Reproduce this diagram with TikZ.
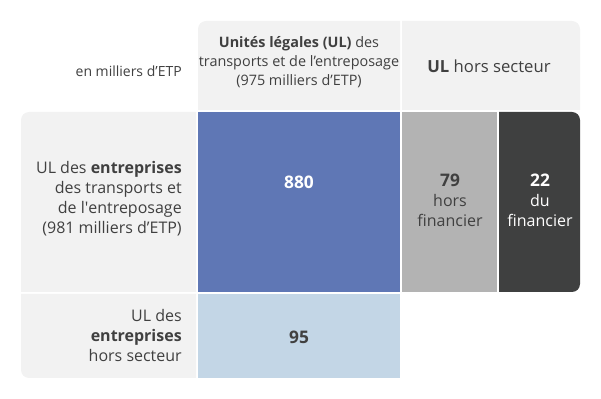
\documentclass[tikz,border=0pt]{standalone}
\usepackage{fontspec}
\setmainfont{Open Sans}
\usetikzlibrary{math}
\definecolor{cellgray}{HTML}{F2F2F2}
\definecolor{ulblue}{HTML}{5F77B5}
\definecolor{ullight}{HTML}{C3D6E6}
\definecolor{midgray}{HTML}{B3B3B3}
\definecolor{darkcell}{HTML}{3F4040}
\definecolor{txt}{HTML}{404040}

\begin{document}
\begin{tikzpicture}[x=0.75pt, y=-0.75pt,
  lbl/.style={text=txt, font=\fontsize{12}{15}\selectfont, align=center, inner sep=0pt},
  rlbl/.style={lbl, align=right, anchor=east},
  num/.style={lbl, font=\fontsize{13}{15}\bfseries}]
  \tikzmath{%
    \xa = 21; \xz = 196; \xb = 198; \xc = 400; \xd = 402; \xe = 497; \xf = 499; \xg = 580;
    \ya = 21; \yb = 110; \yc = 112; \yd = 292; \ye = 294; \yf = 378;
  }
  \useasboundingbox (0,0) rectangle (601,399);

  % header
  \fill[cellgray] (\xb,\yb) [rounded corners=6pt] -- (\xb,\ya) [sharp corners] -- (\xc,\ya) -- (\xc,\yb) -- cycle;
  \fill[cellgray] (\xd,\yb) -- (\xd,\ya) [rounded corners=6pt] -- (\xg,\ya) [sharp corners] -- (\xg,\yb) -- cycle;

  % rows
  \fill[cellgray] (\xz,\yd) -- (\xa,\yd) [rounded corners=6pt] -- (\xa,\yc) [sharp corners] -- (\xz,\yc) -- cycle;
  \fill[ulblue] (\xb,\yc) rectangle (\xc,\yd);
  \fill[midgray] (\xd,\yc) rectangle (\xe,\yd);
  \fill[darkcell] (\xf,\yd) -- (\xf,\yc) [rounded corners=6pt] -- (\xg,\yc) -- (\xg,\yd) [sharp corners] -- cycle;
  \fill[cellgray] (\xz,\ye) -- (\xa,\ye) [rounded corners=6pt] -- (\xa,\yf) [sharp corners] -- (\xz,\yf) -- cycle;
  \fill[ullight] (\xb,\ye) rectangle (\xc,\yf);

  \node[rlbl, font=\fontsize{10.5}{15}\selectfont] (unit) at (182,71) {en milliers d’ETP};
  \node[lbl, font=\fontsize{10.8}{14}\selectfont] (ul) at (299,62) {\textbf{Unités légales (UL)} des\\transports et de l’entreposage\\(975 milliers d’ETP)};
  \node[lbl, font=\fontsize{12.5}{15}\selectfont] (hors) at (489,66) {\textbf{UL} hors secteur};
  \node[rlbl] (entr) at (182,199) {UL des \textbf{entreprises}\\des transports et\\de l\textquotesingle entreposage\\(981 milliers d’ETP)};
  \node[rlbl] (entrhors) at (182,336) {UL des\\\textbf{entreprises}\\hors secteur};
  \node[num, text=white] (n880) at (299,182) {880};
  \node[lbl] (n79) at (450,200) {\textbf{\fontsize{13}{15}\selectfont 79}\\hors\\financier};
  \node[lbl, text=white] (n22) at (540,200) {\textbf{\fontsize{13}{15}\selectfont 22}\\du\\financier};
  \node[num] (n95) at (299,337) {95};
\end{tikzpicture}
\end{document}
